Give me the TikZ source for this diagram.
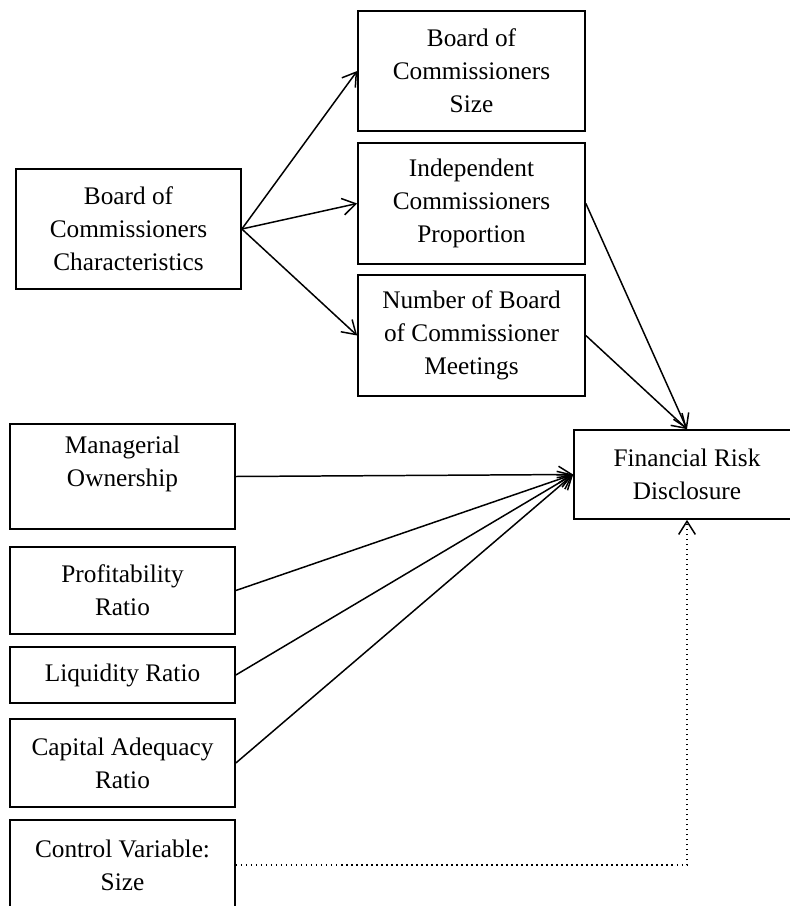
\documentclass[tikz,border=0pt]{standalone}
\usepackage{fontspec}
\setmainfont{Liberation Serif}
\usetikzlibrary{arrows.meta}
\begin{document}
\begin{tikzpicture}[x=0.02cm,y=-0.02cm,line width=0.85pt,
  box/.style={draw,line width=1pt,align=center,inner sep=2pt,font=\fontsize{14.4}{18.8}\selectfont},
  arr/.style={-{Straight Barb[length=7.5pt,width=9.5pt]}}]
\useasboundingbox (0,0) rectangle (789,906);

% board of commissioners
\node[box,minimum width=4.5cm,minimum height=2.4cm] (chr) at (128.5,229) {Board of\\Commissioners\\Characteristics};
\node[box,minimum width=4.54cm,minimum height=2.4cm] (bsize) at (471.5,71) {Board of\\Commissioners\\Size};
\node[box,minimum width=4.54cm,minimum height=2.42cm] (indep) at (471.5,203.5) {Independent\\Commissioners\\Proportion};
\node[box,minimum width=4.54cm,minimum height=2.42cm] (meet) at (471.5,335.5) {Number of Board\\of Commissioner\\Meetings};

% other variables
\node[box,minimum width=4.5cm,minimum height=2.1cm] (mgr) at (122.5,476.5) {Managerial\\Ownership\\[-7pt]\strut};
\node[box,minimum width=4.5cm,minimum height=1.74cm] (prof) at (122.5,590.5) {Profitability\\Ratio};
\node[box,minimum width=4.5cm,minimum height=1.12cm] (liq) at (122.5,675) {Liquidity Ratio};
\node[box,minimum width=4.5cm,minimum height=1.76cm] (cap) at (122.5,763) {Capital Adequacy\\Ratio};
\node[box,minimum width=4.5cm,minimum height=1.8cm] (ctrl) at (122.5,865) {Control Variable:\\Size};

\node[box,minimum width=4.52cm,minimum height=1.78cm] (frd) at (687,474.5) {Financial Risk\\Disclosure};

\draw[arr] (chr.east) -- (bsize.west);
\draw[arr] (chr.east) -- (indep.west);
\draw[arr] (chr.east) -- (meet.west);

\draw[arr] (indep.east) -- (frd.north);
\draw[arr] (meet.east) -- (frd.north);

\foreach \v in {mgr,prof,liq,cap}
  \draw[arr] (\v.east) -- (frd.west);

\draw[arr,dotted] (ctrl.east) -| (frd.south);
\end{tikzpicture}
\end{document}
